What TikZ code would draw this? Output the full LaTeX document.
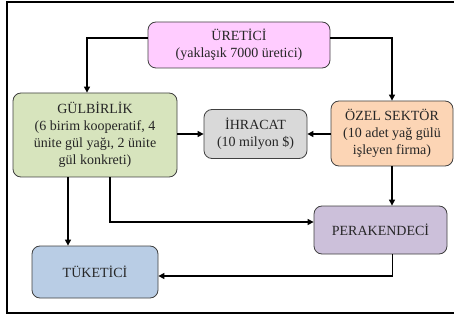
\documentclass[tikz,border=0pt]{standalone}
\usepackage{fontspec}
\setmainfont{Liberation Serif}
\usetikzlibrary{arrows.meta,positioning,calc}
\definecolor{pinkfill}{HTML}{FFCCFF}
\definecolor{greenfill}{HTML}{D7E4BD}
\definecolor{grayfill}{HTML}{D9D9D9}
\definecolor{orangefill}{HTML}{FCD5B5}
\definecolor{purplefill}{HTML}{CCC0DA}
\definecolor{bluefill}{HTML}{B9CDE5}

\begin{document}
\begin{tikzpicture}[x=1pt,y=-1pt,font=\fontsize{14}{17}\selectfont,
box/.style={draw=black!75,line width=0.8pt,rounded corners=8pt,align=center,text=black!85,inner sep=2pt},
flow/.style={line width=1.2pt,-{Triangle[length=6pt,width=6pt]}}]
\useasboundingbox (0,0) rectangle (454,320);
\draw[line width=1.2pt] (470,2)--(7,2)--(7,313)--(470,313);
\node[box,fill=pinkfill,minimum width=182pt,minimum height=46pt] (uretici) at (239,45) {ÜRETİCİ\\(yaklaşık 7000 üretici)};
\node[box,fill=greenfill,minimum width=164pt,minimum height=84pt] (gulbirlik) at (95,135) {GÜLBİRLİK\\(6 birim kooperatif, 4\\ünite gül yağı, 2 ünite\\gül konkreti)};
\node[box,fill=grayfill,minimum width=103pt,minimum height=49pt] (ihracat) at (255.5,134) {İHRACAT\\(10 milyon \$)};
\node[box,fill=orangefill,minimum width=122pt,minimum height=65pt] (ozel) at (392,133.5) {ÖZEL SEKTÖR\\(10 adet yağ gülü\\işleyen firma)};
\node[box,fill=purplefill,minimum width=133pt,minimum height=48pt] (perakendeci) at (380.5,230) {PERAKENDECİ};
\node[box,fill=bluefill,minimum width=126pt,minimum height=52pt] (tuketici) at (95,272) {TÜKETİCİ};
\draw[flow] ([yshift=7pt]uretici.west) -| ([xshift=-8pt]gulbirlik.north);
\draw[flow] ([yshift=7pt]uretici.east) -| (ozel.north);
\draw[flow] (gulbirlik.east|-ihracat.west) -- (ihracat.west);
\draw[flow] (ozel.west|-ihracat.east) -- (ihracat.east);
\draw[flow] ([xshift=-27pt]gulbirlik.south) -- ([xshift=-27pt]gulbirlik.south|-tuketici.north);
\draw[flow] ([xshift=15pt]gulbirlik.south) |- ([yshift=8pt]perakendeci.west);
\draw[flow] (ozel.south) -- (ozel.south|-perakendeci.north);
\draw[flow] ([xshift=12pt]perakendeci.south) |- ([yshift=-4pt]tuketici.east);
\end{tikzpicture}
\end{document}
